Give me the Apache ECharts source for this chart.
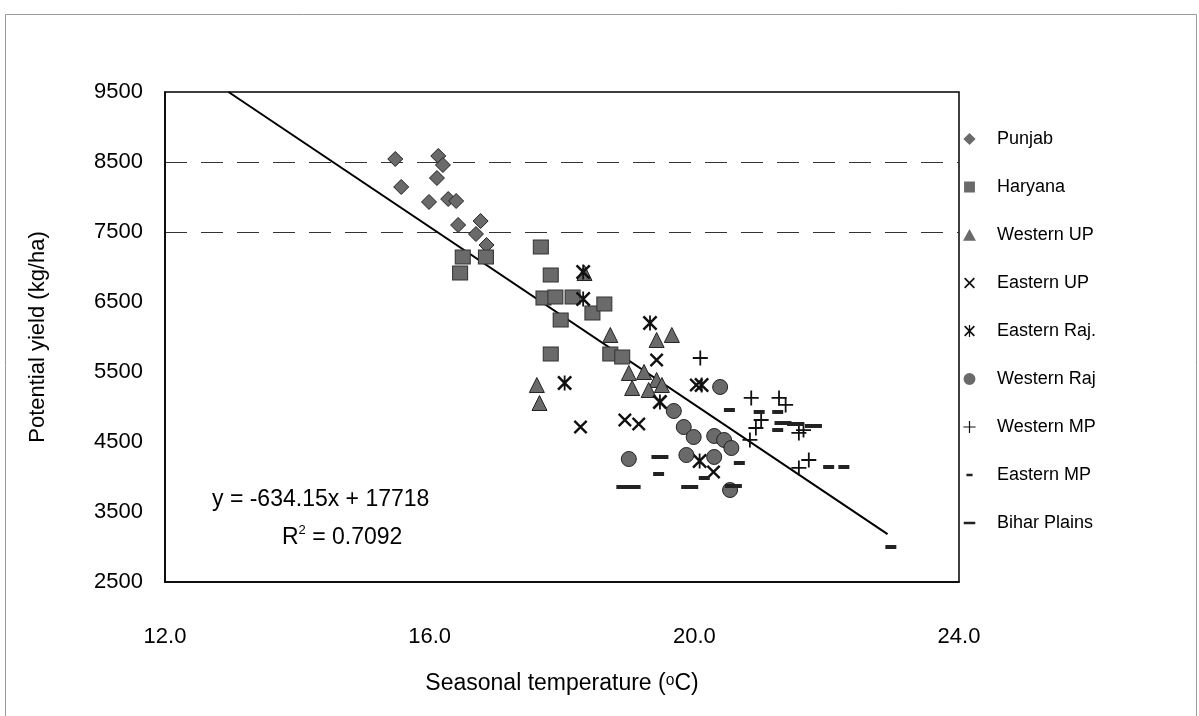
<!DOCTYPE html>
<html>
<head>
<meta charset="utf-8">
<script src="https://cdn.jsdelivr.net/npm/echarts@6/dist/echarts.min.js"></script>
<style>html,body{margin:0;padding:0;background:#fff}#c{width:1199px;height:716px}</style>
</head>
<body>
<div id="c"></div>
<script>
// ---------- data (temperature °C, potential yield kg/ha) ----------
const seriesNames = ['Punjab','Haryana','Western UP','Eastern UP','Eastern Raj.','Western Raj','Western MP','Eastern MP','Bihar Plains'];
const punjab = [[15.48,8543],[16.13,8586],[16.20,8457],[16.11,8271],[15.57,8143],[15.99,7929],[16.28,7971],[16.40,7943],[16.43,7600],[16.77,7657],[16.70,7471],[16.86,7314]];
const haryana = [[16.50,7143],[16.46,6914],[16.85,7143],[17.68,7286],[17.83,6886],[17.72,6557],[17.90,6571],[18.16,6571],[17.98,6243],[18.46,6343],[18.64,6471],[17.83,5757],[18.73,5757],[18.91,5714]];
const westernUP = [[17.62,5314],[17.66,5057],[18.34,6914],[18.73,6029],[19.43,5957],[19.66,6029],[19.01,5486],[19.24,5500],[19.06,5271],[19.43,5386],[19.51,5314],[19.31,5243]];
const easternUP = [[18.28,4714],[18.95,4814],[19.16,4757],[19.43,5671],[20.03,5314],[20.29,4071],[19.48,5071]];
const easternRaj = [[18.32,6929],[18.32,6543],[18.04,5343],[19.33,6200],[20.11,5314],[20.08,4229],[19.48,5071]];
const westernRaj = [[20.39,5286],[19.01,4257],[19.69,4943],[19.84,4714],[19.99,4571],[20.30,4586],[20.45,4529],[20.56,4414],[20.30,4286],[19.88,4314],[20.54,3814]];
const westernMP = [[20.09,5700],[20.86,5129],[21.28,5129],[21.38,5029],[21.01,4814],[20.93,4700],[21.58,4629],[21.65,4671],[20.84,4529],[21.73,4243],[21.58,4129]];
const easternMP = [[20.53,4957],[20.98,4929],[21.26,4929],[22.03,4143],[22.26,4143],[20.68,4200],[19.46,4043],[20.15,3986],[22.97,3000],[21.26,4671]];
const biharPlains = [[21.34,4771],[21.53,4757],[21.80,4729],[19.48,4286],[19.06,3857],[19.93,3857],[20.59,3871],[18.95,3857]];
// trendline y = slope*x + intercept
const trendSlope = -634.15, trendIntercept = 17718;
const trendXStart = 12.96, trendXEnd = 22.92;
const xTicks = [12, 16, 20, 24];
const yTicks = [2500, 3500, 4500, 5500, 6500, 7500, 8500, 9500];
const equationText = 'y = -634.15x + 17718';
const r2Value = '0.7092';

const allData = [punjab, haryana, westernUP, easternUP, easternRaj, westernRaj, westernMP, easternMP, biharPlains];
const trend = [[trendXStart, trendSlope*trendXStart+trendIntercept],[trendXEnd, trendSlope*trendXEnd+trendIntercept]];

const FONT = '"Liberation Sans", Arial, sans-serif';
const xPath = 'path://M0,1.2 L1.2,0 L10,8.8 L8.8,10 Z M8.8,0 L10,1.2 L1.2,10 L0,8.8 Z';
const starPath = 'path://M0,1.2 L1.2,0 L10,8.8 L8.8,10 Z M8.8,0 L10,1.2 L1.2,10 L0,8.8 Z M4.4,0 L5.6,0 L5.6,10 L4.4,10 Z';
const plusPath = 'path://M4.4,0 L5.6,0 L5.6,10 L4.4,10 Z M0,4.4 L10,4.4 L10,5.6 L0,5.6 Z';
// legend icons padded with near-invisible corner specks so small marks keep their shape
const pad = 'M0,0 L0.02,0 L0,0.02 Z M10,10 L9.98,10 L10,9.98 Z ';
const legendIcons = [
  'path://' + pad + 'M5,1.4 L8.6,5 L5,8.6 L1.4,5 Z',
  'path://' + pad + 'M1.8,1.8 L8.2,1.8 L8.2,8.2 L1.8,8.2 Z',
  'path://' + pad + 'M5,1.4 L8.8,8.4 L1.2,8.4 Z',
  'path://' + pad + 'M1.8,2.5 L2.5,1.8 L8.2,7.5 L7.5,8.2 Z M7.5,1.8 L8.2,2.5 L2.5,8.2 L1.8,7.5 Z',
  'path://' + pad + 'M1.8,2.5 L2.5,1.8 L8.2,7.5 L7.5,8.2 Z M7.5,1.8 L8.2,2.5 L2.5,8.2 L1.8,7.5 Z M4.65,1.4 L5.35,1.4 L5.35,8.6 L4.65,8.6 Z',
  'path://' + pad + 'M5,1.5 A3.5,3.5 0 1 1 4.99,1.5 Z',
  'path://' + pad + 'M4.65,1.4 L5.35,1.4 L5.35,8.6 L4.65,8.6 Z M1.4,4.65 L8.6,4.65 L8.6,5.35 L1.4,5.35 Z',
  'path://' + pad + 'M3.2,4.2 L6.8,4.2 L6.8,5.8 L3.2,5.8 Z',
  'path://' + pad + 'M1.6,4.2 L8.4,4.2 L8.4,5.8 L1.6,5.8 Z'
];

const styles = [
  {symbol:'diamond', size:15, fill:'#6a6a6a', border:'#222'},
  {symbol:'rect', size:[15,14], fill:'#6a6a6a', border:'#333'},
  {symbol:'triangle', size:15, fill:'#6a6a6a', border:'#222'},
  {symbol:xPath, size:14, fill:'#111', border:null},
  {symbol:starPath, size:15, fill:'#111', border:null},
  {symbol:'circle', size:15, fill:'#6a6a6a', border:'#222'},
  {symbol:plusPath, size:15, fill:'#111', border:null},
  {symbol:'rect', size:[11,4], fill:'#222', border:null},
  {symbol:'rect', size:[17,4], fill:'#222', border:null}
];

const series = seriesNames.map((n,i)=>({
  name:n, type:'scatter', data:allData[i],
  symbol:styles[i].symbol, symbolSize:styles[i].size,
  itemStyle:{color:styles[i].fill, borderColor:styles[i].border||styles[i].fill, borderWidth:styles[i].border?1:0, opacity:1},
  z:3
}));
series.push({
  name:'trend', type:'line', data:trend, symbol:'none', silent:true,
  lineStyle:{color:'#000', width:2}, z:2
});

const chart = echarts.init(document.getElementById('c'), null, {renderer:'canvas'});
chart.setOption({
  backgroundColor:'#fff',
  animation:false,
  grid:{left:165, right:240, top:92, bottom:134, show:true, borderColor:'#000', borderWidth:1.5, backgroundColor:'transparent'},
  xAxis:{
    type:'value', min:xTicks[0], max:xTicks[xTicks.length-1], interval:xTicks[1]-xTicks[0],
    axisLine:{show:true, lineStyle:{color:'#000', width:1.5}}, axisTick:{show:false}, splitLine:{show:false},
    axisLabel:{color:'#000', fontSize:22, fontFamily:FONT, margin:44, formatter:v=>v.toFixed(1)},
    name:'Seasonal temperature (\u1d52C)', nameLocation:'middle', nameGap:90,
    nameTextStyle:{color:'#000', fontSize:23, fontFamily:FONT}
  },
  yAxis:{
    type:'value', min:yTicks[0], max:yTicks[yTicks.length-1], interval:yTicks[1]-yTicks[0],
    axisLine:{show:true, lineStyle:{color:'#000', width:1.5}}, axisTick:{show:false},
    splitLine:{show:true, lineStyle:{type:[22,14], width:1.2, color:['transparent','transparent','transparent','transparent','transparent','#333','#333','transparent']}},
    axisLabel:{color:'#000', fontSize:22, fontFamily:FONT, margin:22, formatter:v=>String(v)},
    name:'Potential yield (kg/ha)', nameLocation:'middle', nameGap:116, nameRotate:90,
    nameTextStyle:{color:'#000', fontSize:22, fontFamily:FONT}
  },
  legend:{
    orient:'vertical', left:956, top:125, itemGap:30, itemWidth:17, itemHeight:17,
    itemStyle:{borderWidth:0},
    data:seriesNames.map((n,i)=>({name:n, icon:legendIcons[i], itemStyle:{borderWidth:0, color:styles[i].fill}})),
    textStyle:{color:'#000', fontSize:18, fontFamily:FONT, padding:[0,0,0,14]}
  },
  graphic:[
    {type:'rect', left:3, top:12, shape:{width:1191, height:702}, style:{fill:'none', stroke:'#999', lineWidth:1}, silent:true},
    {type:'text', left:212, top:488, style:{text:equationText, fill:'#000', font:'23px '+FONT}},
    {type:'text', left:282, top:524, style:{text:'{a|R}{s|2}{a| = '+r2Value+'}', fill:'#000',
      rich:{a:{fontSize:23, fontFamily:FONT, fill:'#000', verticalAlign:'bottom'}, s:{fontSize:13, fontFamily:FONT, fill:'#000', verticalAlign:'top', padding:[0,0,12,0]}}}}
  ],
  series:series
});
</script>
</body>
</html>
